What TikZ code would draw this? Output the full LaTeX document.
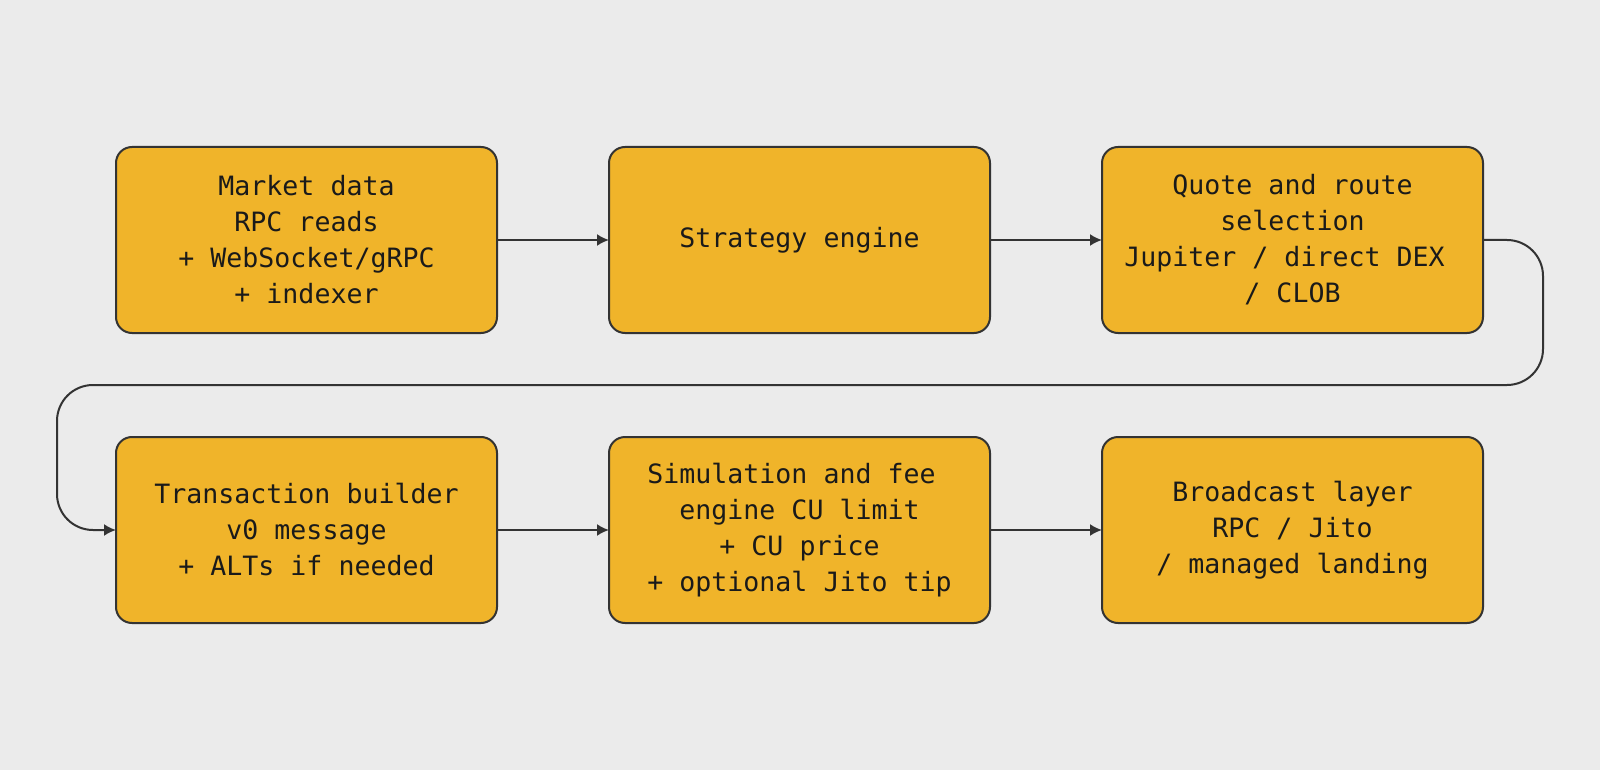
\documentclass[tikz,border=0pt]{standalone}
\usepackage{fontspec}
\setmonofont{DejaVu Sans Mono}
\usetikzlibrary{positioning,calc,arrows.meta}
\definecolor{PipeBg}{HTML}{EBEBEB}
\definecolor{PipeFill}{HTML}{F0B42A}
\definecolor{PipeLine}{HTML}{333333}
\definecolor{PipeText}{HTML}{1A1A1A}

\begin{document}
\begin{tikzpicture}[font=\ttfamily\fontsize{13.3}{18}\selectfont,>={Latex[length=6pt,width=6pt]},node distance=52pt and 56pt]
\tikzset{stage/.style={draw=PipeLine,line width=1pt,rounded corners=8pt,fill=PipeFill,text=PipeText,align=center,minimum width=190.5pt,minimum height=93pt,inner sep=0pt,outer sep=0pt},
         arr/.style={->,draw=PipeLine,line width=1pt}}
\path[use as bounding box,fill=PipeBg] (0,0) rectangle (800pt,-385pt);
\node[stage] (mkt) at (153.25pt,-120pt) {Market data\\RPC reads\\+ WebSocket/gRPC\\+ indexer};
\node[stage,right=of mkt] (strat) {Strategy engine};
\node[stage,right=of strat] (quote) {Quote and route\\selection\\Jupiter / direct DEX\phantom{x}\\/ CLOB};
\node[stage,below=of mkt] (tx) {Transaction builder\\v0 message\\+ ALTs if needed};
\node[stage,right=of tx] (sim) {Simulation and fee\phantom{x}\\engine CU limit\\+ CU price\\+ optional Jito tip};
\node[stage,right=of sim] (cast) {Broadcast layer\\RPC / Jito\\/ managed landing};
\draw[arr] (mkt)--(strat); \draw[arr] (strat)--(quote);
\draw[arr] (tx)--(sim); \draw[arr] (sim)--(cast);
\coordinate (midrow) at ($(strat.south)!.5!(sim.north)$);
\coordinate (back) at ([xshift=-29.5pt]tx.west);
\draw[arr,rounded corners=18pt] (quote.east) -- ++(30pt,0) |- (midrow) -| (back) -- (tx.west);
\end{tikzpicture}
\end{document}
